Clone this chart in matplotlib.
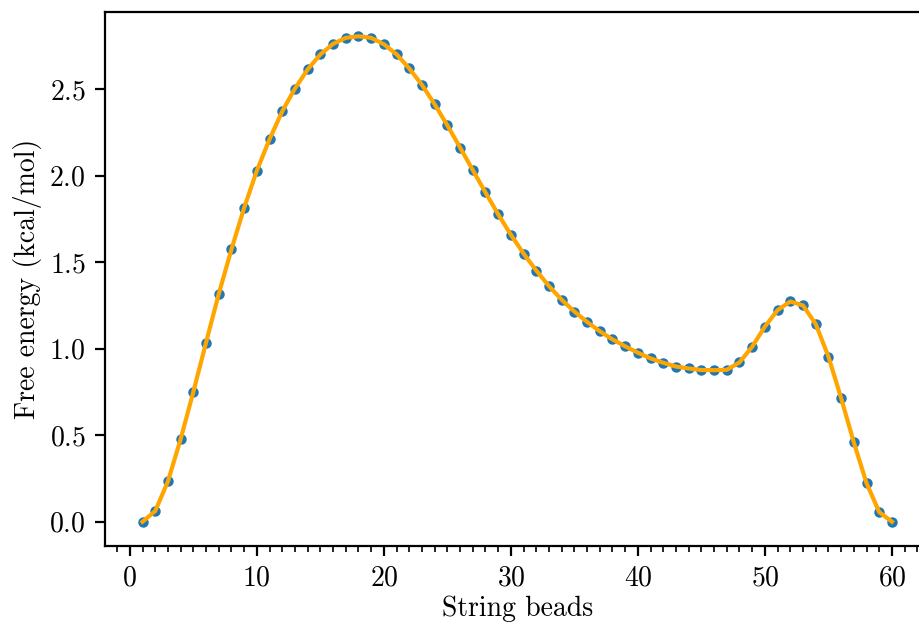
import numpy as np
import matplotlib
matplotlib.use("Agg")
import matplotlib.pyplot as plt
from matplotlib.ticker import MultipleLocator

plt.rcParams['font.family'] = 'serif'
plt.rcParams['font.serif'] = ['cmr10', 'DejaVu Serif']
plt.rcParams['mathtext.fontset'] = 'cm'
plt.rcParams['axes.formatter.use_mathtext'] = True
plt.rcParams['font.size'] = 10

# string beads and free energy
beads = np.arange(1, 61)
energy = [0.000, 0.062, 0.233, 0.477, 0.750, 1.035, 1.316, 1.574, 1.814, 2.029,
          2.211, 2.372, 2.504, 2.614, 2.701, 2.762, 2.797, 2.806, 2.797, 2.760,
          2.702, 2.620, 2.525, 2.413, 2.291, 2.163, 2.033, 1.903, 1.777, 1.659,
          1.550, 1.452, 1.362, 1.283, 1.215, 1.155, 1.101, 1.054, 1.014, 0.977,
          0.944, 0.919, 0.897, 0.886, 0.877, 0.876, 0.878, 0.921, 1.012, 1.128,
          1.223, 1.273, 1.250, 1.143, 0.955, 0.715, 0.459, 0.223, 0.056, 0.000]

fig = plt.figure(figsize=(919/200, 625/200), dpi=200)
ax = fig.add_axes([0.1143, 0.1264, 0.897, 0.8544])

ax.plot(beads, energy, '.', color='C0', ms=5.5)
ax.plot(beads, energy, color='orange', lw=1.5)

ax.xaxis.set_minor_locator(MultipleLocator(1))
ax.set_yticks([0.0, 0.5, 1.0, 1.5, 2.0, 2.5])
ax.set_xlabel('String beads', labelpad=1.5)
ax.set_ylabel('Free energy (kcal/mol)', labelpad=2.5)

fig.savefig('out.png', dpi=200)
